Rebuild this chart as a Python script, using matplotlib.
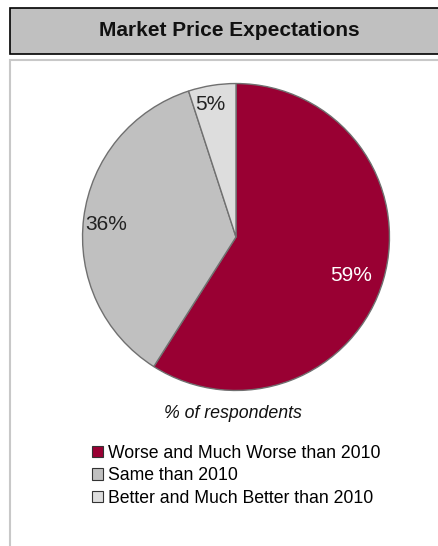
import numpy as np
import matplotlib
matplotlib.use("Agg")
from matplotlib import pyplot as plt
from matplotlib.patches import Rectangle

plt.rcParams['font.family'] = ['Liberation Sans', 'DejaVu Sans']

labels = ['Worse and Much Worse than 2010', 'Same than 2010',
          'Better and Much Better than 2010']
shares = [59, 36, 5]
colors = ['#990033', '#c0c0c0', '#dddddd']
label_colors = ['white', '#222222', '#222222']
label_radius = [0.79, 0.85, 0.88]
label_shift = [-2.5, 1.5, 2.0]  # degrees

W, H = 439, 546
fig = plt.figure(figsize=(W / 100, H / 100), dpi=100)


def fx(px):
    return px / W


def fy(py):
    return 1 - py / H


# title box
fig.patches.append(Rectangle((fx(10), fy(54)), fx(440) - fx(10), fy(8) - fy(54),
                             transform=fig.transFigure, facecolor='#c0c0c0',
                             edgecolor='black', linewidth=1.2, zorder=-5))
fig.text(fx(229), fy(31), 'Market Price Expectations', ha='center', va='center',
         fontsize=15, fontweight='bold', color='#111111')

# panel frame
fig.patches.append(Rectangle((fx(10), fy(560)), fx(450) - fx(10), fy(60) - fy(560),
                             transform=fig.transFigure, facecolor='white',
                             edgecolor='#c8c8c8', linewidth=1.5, zorder=-5))

cx, cy, r = 236, 237, 155
ax = fig.add_axes([fx(cx - r), fy(cy + r), fx(2 * r), fy(cy - r) - fy(cy + r)])
wedges, _ = ax.pie(shares, colors=colors, startangle=90, counterclock=False,
                   wedgeprops=dict(edgecolor='#707070', linewidth=1.0))
ax.set_aspect('equal')
ax.set_xlim(-1.01, 1.01)
ax.set_ylim(-1.01, 1.01)

for w, s, c, rad, sh in zip(wedges, shares, label_colors, label_radius, label_shift):
    mid = np.deg2rad((w.theta1 + w.theta2) / 2 + sh)
    ax.text(rad * np.cos(mid), rad * np.sin(mid), f'{s}%', ha='center',
            va='center', fontsize=15, color=c)

fig.text(fx(233), fy(414), '% of respondents', ha='center', va='center',
         fontsize=12.8, style='italic', color='#111111')

handles = [Rectangle((0, 0), 1, 1, facecolor=c, edgecolor='#333333', linewidth=0.8)
           for c in colors]
fig.legend(handles, labels, loc='upper left', bbox_to_anchor=(fx(92), fy(445)),
           frameon=False, fontsize=12.7, handlelength=0.6, handleheight=0.6,
           handletextpad=0.3, labelspacing=0.3, borderaxespad=0, borderpad=0)

fig.savefig('out.png', dpi=100)
